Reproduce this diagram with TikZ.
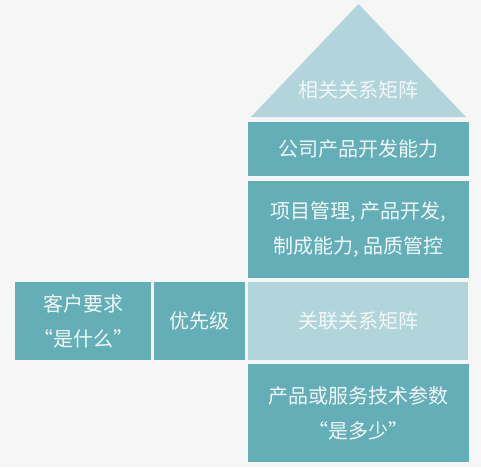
\documentclass[tikz,border=0pt]{standalone}
\usepackage{fontspec}
\setmainfont{Noto Sans CJK SC}
\definecolor{teal1}{HTML}{63AEB7}
\definecolor{teal2}{HTML}{B2D5DC}
\definecolor{bgcol}{HTML}{F6F6F6}
\definecolor{txtcol}{HTML}{F2F8F9}
\begin{document}
\begin{tikzpicture}[
  x=1pt, y=-1pt,
  block/.style={rectangle, fill=teal1, inner sep=0pt, text=txtcol, align=center,
    font=\fontsize{20}{35}\selectfont},
  lightblock/.style={block, fill=teal2},
  roofpart/.style={fill=teal2}
]
\useasboundingbox[fill=bgcol] (0,0) rectangle (481,467);

% Roof
\fill[roofpart] (251,117) -- (358.5,4) -- (466,117) -- cycle;
\node[block, fill=none] (roof) at (358.5,90) {相关关系矩阵};

% Right column
\node[block, minimum width=221, minimum height=54] (capab) at (358.5,149) {公司产品开发能力};
\node[block, minimum width=221, minimum height=97] (skills) at (358.5,229.5) {项目管理, 产品开发,\\制成能力, 品质管控};
\node[lightblock, minimum width=220, minimum height=78] (rel) at (358,321) {关联关系矩阵};
\node[block, minimum width=221, minimum height=98] (tech) at (358.5,413) {产品或服务技术参数\\“是多少”};

% Left row
\node[block, minimum width=136, minimum height=78] (needs) at (83,321) {客户要求\\“是什么”};
\node[block, minimum width=91, minimum height=78] (prio) at (199.5,321) {优先级};

\end{tikzpicture}
\end{document}
